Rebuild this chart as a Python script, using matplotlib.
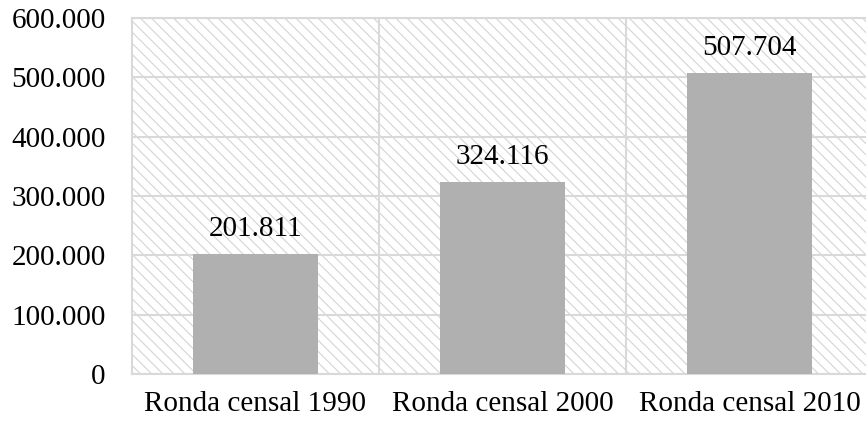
import numpy as np
import matplotlib
matplotlib.use('Agg')
import matplotlib.pyplot as plt
from matplotlib.patches import Rectangle

plt.rcParams['font.family'] = ['Liberation Serif', 'DejaVu Serif']
plt.rcParams['hatch.linewidth'] = 0.8
plt.rcParams['hatch.color'] = '#d4d4d4'

# datos
rondas = ['Ronda censal 1990', 'Ronda censal 2000', 'Ronda censal 2010']
valores = [201811, 324116, 507704]
yticks = [0, 100000, 200000, 300000, 400000, 500000, 600000]
ytick_labels = ['0', '100.000', '200.000', '300.000', '400.000', '500.000', '600.000']

grid_col = '#d9d9d9'

fig = plt.figure(figsize=(8.66, 4.25), dpi=100)
ax = fig.add_axes([132/866, 1-374/425, 741/866, 356/425])

# fondo rayado
ax.add_patch(Rectangle((0, 0), 1, 1, transform=ax.transAxes, facecolor='white',
                       edgecolor='#d4d4d4', hatch='\\\\\\', linewidth=0, zorder=0))

x = np.arange(len(rondas))
bars = ax.bar(x, valores, width=0.505, color='#b0b0b0', zorder=3)

for xi, v in zip(x, valores):
    ax.annotate(f'{v/1000:.3f}', (xi, v), xytext=(0, 12), textcoords='offset pixels',
                ha='center', va='bottom', fontsize=21, color='black', zorder=4)

ax.set_xlim(-0.5, len(rondas) - 0.5)
ax.set_ylim(0, 600000)
ax.set_yticks(yticks)
ax.set_yticklabels(ytick_labels)
ax.set_xticks(x)
ax.set_xticklabels(rondas)
ax.set_xticks([0.5, 1.5], minor=True)

ax.tick_params(axis='both', which='both', length=0, labelsize=21, colors='black')
ax.tick_params(axis='y', pad=19)
ax.tick_params(axis='x', pad=12)

ax.grid(axis='y', which='major', color=grid_col, linewidth=1.5, zorder=1)
ax.grid(axis='x', which='minor', color=grid_col, linewidth=1.5, zorder=1)
ax.set_axisbelow(True)

for s in ax.spines.values():
    s.set_color(grid_col)
    s.set_linewidth(1.5)

fig.savefig('out.png', dpi=100)
